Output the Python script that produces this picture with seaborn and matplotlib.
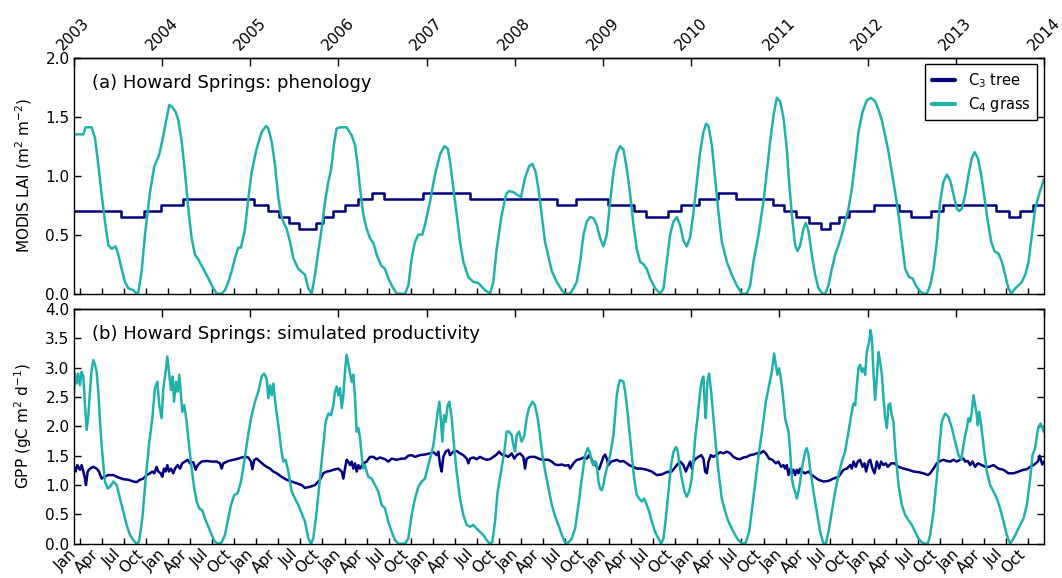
import matplotlib
matplotlib.use("Agg")
import matplotlib.pyplot as plt
import seaborn as sns
import pandas as pd

# ---------------- data (decimal years) ----------------
years = list(range(2003, 2015))
month_names = ["Jan", "Apr", "Jul", "Oct"]

lai_tree_t = [2003.0, 2003.536, 2003.800, 2003.989, 2004.235, 2005.048, 2005.199, 2005.331, 2005.444,
              2005.558, 2005.747, 2005.830, 2005.943, 2006.076, 2006.219, 2006.378, 2006.521, 2006.964,
              2007.493, 2008.484, 2008.695, 2009.062, 2009.357, 2009.489, 2009.735, 2009.886, 2010.094,
              2010.302, 2010.510, 2010.922, 2011.054, 2011.190, 2011.341, 2011.473, 2011.568, 2011.681,
              2011.794, 2012.074, 2012.361, 2012.494, 2012.720, 2012.853, 2013.457, 2013.608, 2013.722,
              2013.870, 2014.0]
lai_tree_v = [0.70, 0.65, 0.70, 0.75, 0.80, 0.75, 0.70, 0.65, 0.60,
              0.55, 0.60, 0.65, 0.70, 0.75, 0.80, 0.85, 0.80, 0.85,
              0.80, 0.75, 0.80, 0.75, 0.70, 0.65, 0.70, 0.75, 0.80,
              0.85, 0.80, 0.75, 0.70, 0.65, 0.60, 0.55, 0.60, 0.65,
              0.70, 0.75, 0.70, 0.65, 0.70, 0.75, 0.70, 0.65, 0.70,
              0.75, 0.75]

lai_grass_t = [
    2003.000, 2003.109, 2003.135, 2003.203, 2003.241, 2003.279, 2003.317, 2003.355, 2003.392, 2003.430,
    2003.475, 2003.506, 2003.543, 2003.581, 2003.619, 2003.676, 2003.714, 2003.732, 2003.770, 2003.808,
    2003.865, 2003.914, 2003.970, 2004.016, 2004.054, 2004.084, 2004.118, 2004.156, 2004.186, 2004.224,
    2004.261, 2004.299, 2004.337, 2004.375, 2004.413, 2004.469, 2004.526, 2004.583, 2004.621, 2004.677,
    2004.715, 2004.753, 2004.791, 2004.828, 2004.866, 2004.896, 2004.942, 2004.980, 2005.017, 2005.074,
    2005.131, 2005.180, 2005.206, 2005.244, 2005.282, 2005.320, 2005.350, 2005.376, 2005.414, 2005.452,
    2005.490, 2005.546, 2005.622, 2005.660, 2005.698, 2005.735, 2005.773, 2005.811, 2005.849, 2005.887,
    2005.917, 2005.955, 2005.981, 2006.019, 2006.094, 2006.151, 2006.189, 2006.219, 2006.246, 2006.283,
    2006.321, 2006.359, 2006.397, 2006.435, 2006.484, 2006.529, 2006.567, 2006.612, 2006.661, 2006.756,
    2006.794, 2006.831, 2006.869, 2006.907, 2006.952, 2006.990, 2007.039, 2007.096, 2007.153, 2007.202,
    2007.240, 2007.266, 2007.304, 2007.342, 2007.379, 2007.417, 2007.474, 2007.531, 2007.587, 2007.625,
    2007.663, 2007.720, 2007.757, 2007.795, 2007.852, 2007.901, 2007.935, 2007.984, 2008.022, 2008.071,
    2008.116, 2008.162, 2008.200, 2008.237, 2008.268, 2008.305, 2008.343, 2008.420, 2008.476, 2008.533,
    2008.571, 2008.627, 2008.665, 2008.703, 2008.741, 2008.779, 2008.816, 2008.854, 2008.892, 2008.930,
    2008.968, 2009.005, 2009.043, 2009.081, 2009.119, 2009.157, 2009.194, 2009.232, 2009.270, 2009.308,
    2009.346, 2009.383, 2009.421, 2009.459, 2009.497, 2009.534, 2009.591, 2009.648, 2009.686, 2009.723,
    2009.761, 2009.799, 2009.837, 2009.875, 2009.912, 2009.950, 2009.988, 2010.026, 2010.064, 2010.101,
    2010.139, 2010.169, 2010.196, 2010.234, 2010.271, 2010.309, 2010.347, 2010.404, 2010.460, 2010.517,
    2010.574, 2010.630, 2010.668, 2010.706, 2010.763, 2010.819, 2010.857, 2010.895, 2010.933, 2010.971,
    2011.008, 2011.046, 2011.084, 2011.103, 2011.141, 2011.178, 2011.205, 2011.235, 2011.273, 2011.299,
    2011.330, 2011.367, 2011.405, 2011.443, 2011.488, 2011.519, 2011.556, 2011.594, 2011.632, 2011.670,
    2011.707, 2011.745, 2011.783, 2011.821, 2011.859, 2011.896, 2011.942, 2011.991, 2012.040, 2012.085,
    2012.123, 2012.161, 2012.199, 2012.237, 2012.274, 2012.312, 2012.350, 2012.388, 2012.426, 2012.471,
    2012.509, 2012.546, 2012.596, 2012.633, 2012.671, 2012.709, 2012.747, 2012.785, 2012.822, 2012.860,
    2012.898, 2012.936, 2012.974, 2013.011, 2013.038, 2013.068, 2013.106, 2013.144, 2013.181, 2013.212,
    2013.249, 2013.287, 2013.325, 2013.363, 2013.401, 2013.438, 2013.484, 2013.522, 2013.559, 2013.597,
    2013.627, 2013.673, 2013.710, 2013.748, 2013.786, 2013.824, 2013.862, 2013.899, 2013.950, 2014.000]
lai_grass_v = [
    1.35, 1.35, 1.41, 1.41, 1.32, 1.09, 0.84, 0.61, 0.41, 0.38,
    0.40, 0.33, 0.21, 0.10, 0.045, 0.03, 0.0, 0.01, 0.19, 0.50,
    0.86, 1.08, 1.18, 1.34, 1.49, 1.60, 1.58, 1.54, 1.47, 1.29,
    1.03, 0.72, 0.47, 0.33, 0.29, 0.21, 0.13, 0.045, 0.0, 0.0,
    0.03, 0.10, 0.19, 0.30, 0.39, 0.39, 0.55, 0.81, 1.03, 1.23,
    1.37, 1.42, 1.40, 1.29, 1.09, 0.81, 0.67, 0.61, 0.55, 0.44,
    0.30, 0.21, 0.16, 0.045, 0.0, 0.16, 0.36, 0.55, 0.78, 0.95,
    1.05, 1.29, 1.40, 1.41, 1.41, 1.34, 1.26, 1.09, 0.89, 0.67,
    0.55, 0.47, 0.43, 0.33, 0.24, 0.21, 0.13, 0.06, 0.0, 0.0,
    0.07, 0.30, 0.44, 0.50, 0.50, 0.61, 0.78, 1.01, 1.18, 1.25,
    1.23, 1.12, 0.89, 0.67, 0.44, 0.27, 0.14, 0.10, 0.09, 0.06,
    0.03, 0.0, 0.10, 0.38, 0.67, 0.84, 0.87, 0.86, 0.84, 0.82,
    0.98, 1.08, 1.10, 1.03, 0.89, 0.67, 0.44, 0.19, 0.10, 0.03,
    0.0, 0.0, 0.045, 0.10, 0.27, 0.50, 0.61, 0.65, 0.64, 0.58,
    0.47, 0.40, 0.50, 0.78, 1.03, 1.19, 1.25, 1.22, 1.06, 0.84,
    0.58, 0.38, 0.27, 0.25, 0.21, 0.13, 0.045, 0.0, 0.045, 0.27,
    0.50, 0.61, 0.65, 0.58, 0.45, 0.40, 0.48, 0.69, 0.95, 1.20,
    1.37, 1.44, 1.42, 1.26, 0.98, 0.69, 0.44, 0.27, 0.16, 0.07,
    0.0, 0.0, 0.07, 0.27, 0.50, 0.78, 1.03, 1.29, 1.51, 1.66,
    1.63, 1.49, 1.23, 1.01, 0.67, 0.41, 0.36, 0.41, 0.55, 0.60,
    0.53, 0.33, 0.16, 0.045, 0.0, 0.0, 0.07, 0.21, 0.33, 0.41,
    0.50, 0.61, 0.72, 0.89, 1.12, 1.37, 1.54, 1.64, 1.66, 1.63,
    1.56, 1.47, 1.34, 1.20, 1.03, 0.86, 0.67, 0.44, 0.21, 0.14,
    0.13, 0.07, 0.02, 0.0, 0.0, 0.07, 0.21, 0.44, 0.78, 0.95,
    1.01, 0.96, 0.84, 0.72, 0.70, 0.72, 0.84, 1.01, 1.15, 1.20,
    1.15, 1.01, 0.81, 0.61, 0.44, 0.36, 0.34, 0.27, 0.16, 0.045,
    0.0, 0.045, 0.07, 0.10, 0.16, 0.27, 0.50, 0.72, 0.86, 0.97]

gpp_tree_t = [
    2003.000, 2003.005, 2003.022, 2003.041, 2003.071, 2003.090, 2003.109, 2003.128, 2003.139, 2003.158,
    2003.184, 2003.222, 2003.260, 2003.286, 2003.317, 2003.347, 2003.392, 2003.449, 2003.506, 2003.562,
    2003.619, 2003.676, 2003.713, 2003.751, 2003.789, 2003.827, 2003.865, 2003.891, 2003.914, 2003.940,
    2003.959, 2003.986, 2004.004, 2004.023, 2004.042, 2004.061, 2004.080, 2004.103, 2004.129, 2004.148,
    2004.178, 2004.205, 2004.231, 2004.261, 2004.292, 2004.318, 2004.356, 2004.382, 2004.405, 2004.450,
    2004.507, 2004.564, 2004.620, 2004.658, 2004.677, 2004.696, 2004.753, 2004.809, 2004.866, 2004.904,
    2004.942, 2004.979, 2005.010, 2005.025, 2005.048, 2005.074, 2005.112, 2005.150, 2005.187, 2005.225,
    2005.263, 2005.301, 2005.357, 2005.414, 2005.471, 2005.527, 2005.584,
    2005.622, 2005.679, 2005.735, 2005.792, 2005.830, 2005.868, 2005.905, 2005.943, 2006.000, 2006.038,
    2006.057, 2006.075, 2006.094, 2006.113, 2006.132, 2006.151, 2006.170, 2006.189, 2006.208, 2006.227,
    2006.246, 2006.283, 2006.321, 2006.359, 2006.397, 2006.434, 2006.472, 2006.529, 2006.567, 2006.605,
    2006.661, 2006.718, 2006.756, 2006.793, 2006.831, 2006.869, 2006.926, 2006.982, 2007.039, 2007.077,
    2007.115, 2007.134, 2007.153, 2007.171, 2007.190, 2007.217, 2007.247, 2007.266, 2007.304, 2007.341,
    2007.379, 2007.417, 2007.455, 2007.474, 2007.493, 2007.530, 2007.568, 2007.606, 2007.644, 2007.682,
    2007.719, 2007.757, 2007.795, 2007.821, 2007.852, 2007.889, 2007.927, 2007.965, 2007.995, 2008.022,
    2008.059, 2008.097, 2008.116, 2008.135, 2008.173, 2008.229, 2008.286, 2008.343,
    2008.382, 2008.420, 2008.457, 2008.495, 2008.533, 2008.571, 2008.609, 2008.627, 2008.665, 2008.703,
    2008.741, 2008.779, 2008.816, 2008.843, 2008.873, 2008.892, 2008.911, 2008.930, 2008.956, 2008.986,
    2009.005, 2009.024, 2009.043, 2009.062, 2009.092, 2009.119, 2009.156, 2009.194, 2009.232, 2009.270,
    2009.308, 2009.345, 2009.383, 2009.440, 2009.497, 2009.553, 2009.610, 2009.667, 2009.723, 2009.780,
    2009.837, 2009.875, 2009.912, 2009.939, 2009.962, 2009.988, 2010.007, 2010.026, 2010.052, 2010.082,
    2010.113, 2010.139, 2010.158, 2010.177, 2010.196, 2010.222, 2010.252, 2010.290, 2010.328, 2010.366,
    2010.404, 2010.442, 2010.479, 2010.517, 2010.555, 2010.593, 2010.630, 2010.668, 2010.706, 2010.744,
    2010.782, 2010.819, 2010.846, 2010.883, 2010.921, 2010.959, 2010.989, 2011.019, 2011.046,
    2011.065, 2011.084, 2011.103, 2011.122, 2011.141, 2011.159, 2011.178, 2011.197, 2011.216, 2011.235,
    2011.254, 2011.292, 2011.330, 2011.367, 2011.405, 2011.443, 2011.500, 2011.556, 2011.613, 2011.670,
    2011.726, 2011.764, 2011.802, 2011.821, 2011.840, 2011.866, 2011.889, 2011.915, 2011.942, 2011.964,
    2011.983, 2012.010, 2012.029, 2012.055, 2012.078, 2012.104, 2012.131, 2012.153, 2012.180, 2012.206,
    2012.229, 2012.267, 2012.305, 2012.350, 2012.407, 2012.463, 2012.520, 2012.577, 2012.633, 2012.682,
    2012.709, 2012.747, 2012.784, 2012.822, 2012.860, 2012.898, 2012.936, 2012.974, 2013.011, 2013.049,
    2013.087, 2013.106, 2013.136, 2013.162, 2013.189, 2013.219, 2013.249, 2013.295, 2013.333, 2013.378,
    2013.427, 2013.484, 2013.540, 2013.597, 2013.654, 2013.710, 2013.767, 2013.805, 2013.843, 2013.880,
    2013.930, 2013.950, 2013.980, 2014.000]
gpp_tree_v = [
    1.23, 1.31, 1.23, 1.34, 1.26, 1.34, 1.23, 1.11, 1.00, 1.23,
    1.28, 1.31, 1.28, 1.23, 1.11, 1.14, 1.17, 1.17, 1.13, 1.10,
    1.09, 1.06, 1.05, 1.09, 1.11, 1.17, 1.20, 1.23, 1.20, 1.31,
    1.23, 1.20, 1.14, 1.28, 1.23, 1.34, 1.23, 1.28, 1.20, 1.28,
    1.34, 1.28, 1.37, 1.40, 1.43, 1.37, 1.39, 1.26, 1.34, 1.40,
    1.41, 1.40, 1.40, 1.37, 1.28, 1.37, 1.41, 1.43, 1.45, 1.47,
    1.48, 1.47, 1.40, 1.27, 1.43, 1.45, 1.40, 1.35, 1.31, 1.28,
    1.23, 1.20, 1.14, 1.09, 1.06, 1.03, 1.00,
    0.95, 0.97, 1.00, 1.09, 1.20, 1.23, 1.24, 1.26, 1.28, 1.23,
    1.11, 1.28, 1.43, 1.40, 1.34, 1.40, 1.28, 1.37, 1.23, 1.34,
    1.28, 1.37, 1.40, 1.48, 1.48, 1.44, 1.47, 1.44, 1.40, 1.45,
    1.43, 1.45, 1.45, 1.50, 1.51, 1.48, 1.51, 1.52, 1.54, 1.56,
    1.51, 1.57, 1.34, 1.23, 1.48, 1.57, 1.60, 1.51, 1.57, 1.58,
    1.54, 1.51, 1.45, 1.37, 1.45, 1.47, 1.44, 1.48, 1.45, 1.43,
    1.44, 1.48, 1.52, 1.57, 1.52, 1.51, 1.48, 1.54, 1.45, 1.51,
    1.54, 1.48, 1.28, 1.45, 1.48, 1.48, 1.44, 1.43,
    1.43, 1.40, 1.35, 1.34, 1.35, 1.33, 1.34, 1.28, 1.37, 1.43,
    1.44, 1.47, 1.45, 1.51, 1.43, 1.34, 1.40, 1.31, 1.27, 1.40,
    1.48, 1.52, 1.45, 1.34, 1.40, 1.41, 1.43, 1.40, 1.41, 1.37,
    1.33, 1.31, 1.28, 1.28, 1.26, 1.23, 1.17, 1.18, 1.22, 1.23,
    1.34, 1.40, 1.34, 1.23, 1.31, 1.40, 1.28, 1.40, 1.45, 1.48,
    1.51, 1.45, 1.23, 1.20, 1.40, 1.51, 1.48, 1.52, 1.56, 1.54,
    1.57, 1.54, 1.48, 1.45, 1.44, 1.47, 1.48, 1.51, 1.52, 1.54,
    1.54, 1.58, 1.54, 1.45, 1.43, 1.37, 1.40, 1.31, 1.34,
    1.28, 1.34, 1.17, 1.28, 1.20, 1.26, 1.17, 1.26, 1.20, 1.28,
    1.23, 1.20, 1.23, 1.17, 1.13, 1.09, 1.06, 1.07, 1.11, 1.14,
    1.26, 1.28, 1.34, 1.28, 1.40, 1.31, 1.40, 1.43, 1.31, 1.37,
    1.23, 1.40, 1.43, 1.28, 1.20, 1.40, 1.28, 1.40, 1.34, 1.37,
    1.31, 1.37, 1.37, 1.31, 1.28, 1.26, 1.23, 1.22, 1.20, 1.17,
    1.20, 1.28, 1.37, 1.41, 1.43, 1.41, 1.40, 1.43, 1.40, 1.43,
    1.45, 1.40, 1.41, 1.34, 1.40, 1.31, 1.37, 1.34, 1.31, 1.31,
    1.34, 1.28, 1.26, 1.20, 1.20, 1.23, 1.26, 1.27, 1.31, 1.34,
    1.40, 1.50, 1.35, 1.40]

gpp_grass_t = [
    2003.000, 2003.014, 2003.033, 2003.052, 2003.071, 2003.090, 2003.109, 2003.128, 2003.147, 2003.166,
    2003.184, 2003.203, 2003.222, 2003.241, 2003.260, 2003.279, 2003.298, 2003.317, 2003.336, 2003.354,
    2003.385, 2003.411, 2003.449, 2003.487, 2003.525, 2003.562, 2003.600, 2003.638, 2003.676, 2003.713,
    2003.740, 2003.778, 2003.816, 2003.853, 2003.891, 2003.921, 2003.948, 2003.970, 2003.997, 2004.016,
    2004.042, 2004.061, 2004.080, 2004.103, 2004.122, 2004.137, 2004.159, 2004.178, 2004.197, 2004.216,
    2004.231, 2004.254, 2004.280, 2004.307, 2004.337, 2004.367, 2004.394, 2004.424, 2004.458, 2004.488,
    2004.526, 2004.564, 2004.602, 2004.639, 2004.677, 2004.715, 2004.745, 2004.783, 2004.821, 2004.859,
    2004.896, 2004.934, 2004.972, 2005.010, 2005.055, 2005.093, 2005.131, 2005.157, 2005.187, 2005.206,
    2005.225, 2005.244, 2005.263, 2005.289, 2005.320, 2005.350, 2005.376, 2005.403, 2005.433, 2005.471,
    2005.509, 2005.546, 2005.584,
    2005.622, 2005.660, 2005.690, 2005.716, 2005.754, 2005.792, 2005.830, 2005.856, 2005.887, 2005.917,
    2005.943, 2005.962, 2005.981, 2006.000, 2006.019, 2006.038, 2006.057, 2006.075, 2006.094, 2006.113,
    2006.132, 2006.151, 2006.170, 2006.189, 2006.208, 2006.227, 2006.246, 2006.264, 2006.283, 2006.302,
    2006.321, 2006.340, 2006.378, 2006.416, 2006.453, 2006.491, 2006.529, 2006.567, 2006.605, 2006.642,
    2006.680, 2006.756, 2006.793, 2006.831, 2006.869, 2006.907, 2006.945, 2006.982, 2007.020, 2007.050,
    2007.077, 2007.103, 2007.126, 2007.145, 2007.164, 2007.179, 2007.198, 2007.217, 2007.239, 2007.258,
    2007.285, 2007.311, 2007.341, 2007.379, 2007.417, 2007.455, 2007.493, 2007.530, 2007.568, 2007.606,
    2007.644, 2007.682, 2007.719, 2007.746, 2007.776, 2007.806, 2007.844, 2007.882, 2007.908, 2007.935,
    2007.965, 2007.984, 2008.003, 2008.022, 2008.048, 2008.078, 2008.109, 2008.135, 2008.161, 2008.199,
    2008.229, 2008.260, 2008.286, 2008.313, 2008.343, 2008.382, 2008.420, 2008.457,
    2008.495, 2008.533, 2008.571, 2008.609, 2008.646, 2008.684, 2008.722, 2008.760, 2008.797, 2008.828,
    2008.854, 2008.873, 2008.892, 2008.911, 2008.930, 2008.949, 2008.968, 2008.986, 2009.005, 2009.024,
    2009.043, 2009.062, 2009.081, 2009.100, 2009.119, 2009.138, 2009.156, 2009.175, 2009.194, 2009.232,
    2009.251, 2009.270, 2009.289, 2009.308, 2009.327, 2009.345, 2009.364, 2009.383, 2009.410, 2009.440,
    2009.466, 2009.497, 2009.523, 2009.553, 2009.591, 2009.629, 2009.659, 2009.686, 2009.712, 2009.742,
    2009.772, 2009.799, 2009.829, 2009.848, 2009.867, 2009.893, 2009.924, 2009.950, 2009.977, 2010.000,
    2010.018, 2010.045, 2010.075, 2010.101, 2010.120, 2010.139, 2010.150, 2010.165, 2010.184, 2010.203,
    2010.226, 2010.252, 2010.279, 2010.309, 2010.347, 2010.385, 2010.422, 2010.460, 2010.498, 2010.536,
    2010.581, 2010.619, 2010.657, 2010.695, 2010.732, 2010.770, 2010.808, 2010.846, 2010.883, 2010.914,
    2010.940, 2010.959, 2010.978, 2010.997, 2011.016, 2011.035,
    2011.065, 2011.084, 2011.103, 2011.122, 2011.141, 2011.159, 2011.178, 2011.197, 2011.216, 2011.235,
    2011.262, 2011.292, 2011.311, 2011.330, 2011.348, 2011.386, 2011.424, 2011.462, 2011.500, 2011.526,
    2011.556, 2011.594, 2011.632, 2011.670, 2011.707, 2011.745, 2011.783, 2011.821, 2011.840, 2011.859,
    2011.878, 2011.896, 2011.915, 2011.934, 2011.953, 2011.972, 2011.991, 2012.017, 2012.032, 2012.048,
    2012.066, 2012.085, 2012.104, 2012.123, 2012.142, 2012.161, 2012.180, 2012.199, 2012.218, 2012.237,
    2012.255, 2012.274, 2012.293, 2012.312, 2012.350, 2012.388, 2012.425, 2012.463, 2012.501, 2012.539,
    2012.577, 2012.614, 2012.652, 2012.682, 2012.709, 2012.747, 2012.784, 2012.815, 2012.841, 2012.879,
    2012.917, 2012.955, 2012.992, 2013.030, 2013.060, 2013.087, 2013.106, 2013.125, 2013.143, 2013.162,
    2013.181, 2013.200, 2013.219, 2013.238, 2013.249, 2013.264, 2013.287, 2013.313, 2013.351, 2013.389,
    2013.427, 2013.465, 2013.502, 2013.540, 2013.578, 2013.616, 2013.654, 2013.691, 2013.729, 2013.767,
    2013.805, 2013.843, 2013.869, 2013.899, 2013.930, 2013.960, 2014.000]
gpp_grass_v = [
    2.55, 2.90, 2.73, 2.90, 2.70, 2.93, 2.85, 2.36, 1.94, 2.19,
    2.59, 2.96, 3.13, 3.05, 2.93, 2.59, 2.08, 1.68, 1.34, 1.06,
    0.94, 0.97, 1.06, 1.00, 0.77, 0.55, 0.32, 0.15, 0.06, 0.0,
    0.03, 0.43, 1.11, 1.68, 2.14, 2.65, 2.76, 2.36, 2.14, 2.65,
    2.93, 3.19, 2.93, 2.62, 2.85, 2.42, 2.76, 2.59, 2.88, 2.53,
    2.25, 2.36, 2.08, 1.68, 1.28, 0.94, 0.72, 0.60, 0.57, 0.43,
    0.29, 0.15, 0.03, 0.0, 0.02, 0.15, 0.38, 0.66, 0.83, 0.86,
    1.06, 1.40, 1.80, 2.14, 2.42, 2.59, 2.85, 2.90, 2.82, 2.48,
    2.70, 2.53, 2.73, 2.36, 2.02, 1.63, 1.40, 1.43, 1.23, 0.89,
    0.77, 0.66, 0.52,
    0.375, 0.09, 0.0, 0.09, 0.545, 1.11, 1.68, 2.08, 2.22, 2.19,
    2.36, 2.59, 2.68, 2.53, 2.65, 2.31, 2.53, 2.93, 3.22, 3.07,
    2.93, 2.76, 2.88, 2.48, 1.91, 1.97, 1.80, 1.51, 1.28, 1.34,
    1.23, 1.14, 1.11, 1.00, 0.89, 0.66, 0.60, 0.375, 0.20, 0.06,
    0.0, 0.0, 0.09, 0.49, 0.77, 0.97, 1.06, 1.11, 1.34, 1.51,
    1.68, 1.97, 2.25, 2.42, 2.08, 1.74, 2.19, 2.08, 2.36, 2.42,
    2.14, 1.68, 1.23, 0.77, 0.49, 0.32, 0.29, 0.32, 0.26, 0.20,
    0.15, 0.06, 0.0, 0.03, 0.375, 0.89, 1.23, 1.57, 1.91, 1.91,
    1.85, 1.68, 1.57, 1.85, 1.91, 1.74, 1.85, 2.14, 2.31, 2.42,
    2.36, 2.14, 1.85, 1.51, 1.25, 0.95, 0.66, 0.47,
    0.32, 0.15, 0.02, 0.02, 0.09, 0.26, 0.66, 1.11, 1.51, 1.63,
    1.54, 1.40, 1.34, 1.40, 1.34, 1.06, 0.94, 0.91, 1.00, 1.17,
    1.28, 1.40, 1.51, 1.68, 1.85, 2.19, 2.53, 2.70, 2.79, 2.76,
    2.59, 2.36, 2.08, 1.80, 1.51, 1.23, 1.00, 0.83, 0.77, 0.72,
    0.77, 0.66, 0.55, 0.38, 0.20, 0.09, 0.0, 0.09, 0.43, 0.89,
    1.34, 1.57, 1.65, 1.57, 1.34, 1.11, 0.89, 0.80, 0.89, 1.06,
    1.28, 1.80, 2.19, 2.59, 2.79, 2.85, 2.48, 2.14, 2.76, 2.90,
    2.59, 2.14, 1.68, 1.23, 0.77, 0.55, 0.38, 0.26, 0.15, 0.06,
    0.0, 0.02, 0.20, 0.66, 1.11, 1.57, 1.97, 2.42, 2.70, 2.93,
    3.24, 3.05, 2.88, 2.99, 2.82, 2.59,
    2.14, 2.02, 1.91, 1.57, 1.11, 0.97, 0.89, 0.77, 0.89, 1.06,
    1.34, 1.57, 1.63, 1.51, 1.28, 0.89, 0.55, 0.20, 0.0, 0.0,
    0.20, 0.55, 0.89, 1.17, 1.40, 1.57, 1.91, 2.25, 2.39, 2.36,
    2.70, 2.99, 3.05, 2.93, 2.99, 2.88, 3.27, 3.44, 3.64, 3.50,
    2.93, 2.45, 2.82, 3.27, 3.10, 2.88, 2.48, 2.14, 1.97, 2.36,
    2.39, 2.19, 2.08, 1.63, 1.00, 0.66, 0.49, 0.40, 0.32, 0.20,
    0.09, 0.02, 0.0, 0.0, 0.15, 0.55, 1.11, 1.68, 2.08, 2.22,
    2.16, 1.97, 1.74, 1.51, 1.43, 1.68, 1.85, 1.97, 2.14, 2.08,
    2.25, 2.53, 2.36, 2.19, 2.02, 2.25, 2.02, 1.68, 1.23, 1.00,
    0.89, 0.77, 0.60, 0.38, 0.15, 0.0, 0.09, 0.20, 0.32, 0.43,
    0.66, 1.11, 1.51, 1.63, 1.95, 2.05, 1.90]

tree_label = "C$_3$ tree"
grass_label = "C$_4$ grass"
tree_color = "navy"
grass_color = "lightseagreen"

# ---------------- style ----------------
sns.set_style("ticks")
plt.rcParams.update({
    "font.family": ["DejaVu Sans"],
    "xtick.direction": "in",
    "ytick.direction": "in",
    "axes.linewidth": 1.0,
    "mathtext.default": "regular",
    "text.color": "black",
    "axes.labelcolor": "black",
    "xtick.color": "black",
    "ytick.color": "black",
    "axes.edgecolor": "black",
})

fig = plt.figure(figsize=(10.62, 5.78), dpi=100)
ax1 = fig.add_axes([0.0694, 0.4919, 0.9137, 0.4083])
ax2 = fig.add_axes([0.0694, 0.0593, 0.9137, 0.4061])

df_lai_tree = pd.DataFrame({"t": lai_tree_t, "v": lai_tree_v})
df_lai_grass = pd.DataFrame({"t": lai_grass_t, "v": lai_grass_v})
df_gpp_tree = pd.DataFrame({"t": gpp_tree_t, "v": gpp_tree_v})
df_gpp_grass = pd.DataFrame({"t": gpp_grass_t, "v": gpp_grass_v})

lw = 1.8
sns.lineplot(data=df_lai_tree, x="t", y="v", ax=ax1, color=tree_color, lw=lw,
             estimator=None, sort=False, drawstyle="steps-post", label=tree_label)
sns.lineplot(data=df_lai_grass, x="t", y="v", ax=ax1, color=grass_color, lw=lw,
             estimator=None, sort=False, label=grass_label)
sns.lineplot(data=df_gpp_tree, x="t", y="v", ax=ax2, color=tree_color, lw=lw,
             estimator=None, sort=False, legend=False)
sns.lineplot(data=df_gpp_grass, x="t", y="v", ax=ax2, color=grass_color, lw=lw,
             estimator=None, sort=False, legend=False)

month_ticks = [y + 0.07 + 0.25 * k for y in years[:-1] for k in range(4)]
month_labels = month_names * (len(years) - 1)

for ax, ymax in ((ax1, 2.0), (ax2, 4.0)):
    ax.set_xlim(years[0], years[-1])
    ax.set_ylim(0, ymax)
    ax.set_yticks([i * 0.5 for i in range(int(ymax / 0.5) + 1)])
    ax.set_yticklabels([f"{i * 0.5:.1f}" for i in range(int(ymax / 0.5) + 1)], fontsize=11)
    ax.tick_params(axis="y", which="both", left=True, right=True, direction="in",
                   length=5, width=1, pad=3, colors="black")
    ax.set_xticks(month_ticks)
    ax.tick_params(axis="x", which="both", bottom=True, top=False, direction="in",
                   length=4, width=1, colors="black")
    ax.set_xlabel("")
    for sp in ax.spines.values():
        sp.set_visible(True)
        sp.set_linewidth(1.0)
        sp.set_color("black")
    sec = ax.secondary_xaxis("top")
    sec.set_xticks(years)
    sec.tick_params(axis="x", direction="in", length=6, width=1, colors="black")
    if ax is ax1:
        sec.set_xticklabels([str(y) for y in years], rotation=45, ha="center", fontsize=11)
    else:
        sec.set_xticklabels([])

ax1.set_xticklabels([])
ax2.set_xticklabels(month_labels, rotation=45, ha="right", fontsize=11)
ax2.tick_params(axis="x", pad=2)

ax1.set_ylabel("MODIS LAI (m$^{2}$ m$^{-2}$)", fontsize=11, labelpad=8, color="black")
ax2.set_ylabel("GPP (gC m$^{2}$ d$^{-1}$)", fontsize=11, labelpad=8, color="black")

ax1.text(0.019, 0.893, "(a) Howard Springs: phenology", transform=ax1.transAxes,
         fontsize=13, va="center", ha="left", color="black")
ax2.text(0.019, 0.893, "(b) Howard Springs: simulated productivity", transform=ax2.transAxes,
         fontsize=13, va="center", ha="left", color="black")

leg = ax1.legend(loc="upper right", fontsize=10.5, frameon=True, fancybox=False,
                 edgecolor="black", framealpha=1, handlelength=1.6, handletextpad=0.9,
                 labelspacing=0.35, borderpad=0.45, borderaxespad=0.45)
leg.get_frame().set_linewidth(1.0)
for txt in leg.get_texts():
    txt.set_color("black")
for h in leg.get_lines():
    h.set_linewidth(3)

fig.savefig("out.png", dpi=100)
